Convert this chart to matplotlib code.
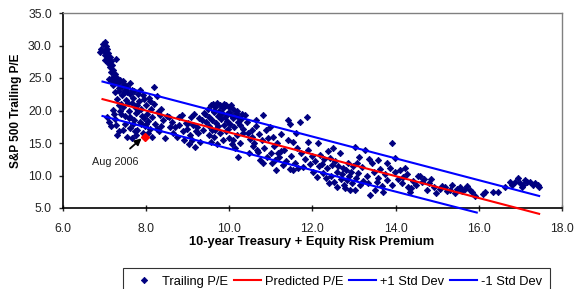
import matplotlib
matplotlib.use("Agg")
import matplotlib.pyplot as plt

plt.rcParams['font.family'] = ['Liberation Sans', 'DejaVu Sans']

# ---- data ----
tail = [(7.00,30.6),(6.97,30.2),(7.03,30.0),(6.92,29.4),(6.88,29.0),(6.98,29.2),(7.05,29.5),(7.08,28.9),
        (7.00,28.6),(7.12,28.3),(7.05,28.0),(7.15,27.6),(7.08,27.3),(7.18,27.0),(7.12,26.7),(7.20,26.3),
        (7.15,25.9),(7.25,25.6),(7.20,25.2),(7.30,25.0),(7.10,24.9),(7.38,24.7),(7.25,24.5),(7.45,24.6),
        (7.33,24.2),(7.50,24.0),(7.42,23.8),(7.55,23.6),(7.20,24.0),(7.15,24.6),(7.60,24.3),(7.65,23.2),
        (7.35,23.5),(7.48,23.1),(7.28,27.9),(7.02,27.8)]
cluster1 = [(7.05,19.0),(7.10,18.3),(7.15,17.6),(7.20,20.1),(7.22,19.4),(7.25,18.7),(7.28,17.8),(7.30,16.2),
        (7.35,16.8),(7.38,19.9),(7.40,21.0),(7.42,22.4),(7.45,20.5),(7.48,19.2),(7.50,18.0),(7.52,21.6),
        (7.55,22.8),(7.58,20.0),(7.60,19.0),(7.62,17.3),(7.65,21.2),(7.68,22.0),(7.70,18.5),(7.72,20.6),
        (7.75,19.6),(7.78,17.0),(7.80,22.5),(7.82,21.4),(7.85,18.2),(7.88,20.3),(7.90,19.1),(7.92,16.6),
        (7.95,21.8),(7.98,17.6),(8.00,20.8),(8.02,19.4),(8.05,18.4),(8.08,22.0),(8.10,17.2),(8.12,20.2),
        (8.15,19.0),(8.18,23.6),(8.20,21.0),(8.22,18.0),(8.25,22.3),(8.28,19.8),(8.30,16.8),(8.33,19.3),
        (8.36,17.6),(8.40,18.6),(8.45,15.8),(8.50,19.1),(7.45,17.0),(7.55,16.0),(7.65,15.7),(7.75,16.2),
        (7.35,20.8),(7.57,21.1),(7.70,23.0),(7.62,22.6),(7.85,23.2),(7.50,22.9),(7.40,19.5),(7.80,19.9),
        (8.05,16.5),(8.15,16.0),(7.95,18.8),(7.88,17.9),(7.68,18.0),(7.58,18.8),(7.30,21.8),(7.25,22.9),
        (7.35,23.0),(8.00,17.9),(8.25,17.1),(8.35,20.3),(7.78,20.9),(7.92,22.4),(8.10,21.5),(7.72,16.8)]
cluster2 = [(8.55,19.0),(8.62,18.2),(8.70,17.4),(8.75,15.9),(8.80,19.0),(8.85,19.3),(8.88,16.8),(8.92,15.5),
        (8.95,18.1),(8.98,17.2),(9.00,18.1),(9.05,16.2),(9.08,19.0),(9.10,15.5),(9.12,17.8),(9.17,14.4),
        (9.20,16.9),(9.22,17.5),(9.25,16.5),(9.28,18.8),(9.30,15.2),(9.34,18.5),(9.36,17.0),(9.38,19.6),
        (8.65,16.5),(8.78,17.8),(9.15,19.4),(9.02,14.9),(8.58,17.5)]
cluster3 = [(9.42,19.5),(9.45,18.2),(9.48,20.3),(9.50,17.6),(9.52,19.0),(9.55,20.8),(9.58,18.6),(9.60,21.0),
        (9.62,19.7),(9.65,20.5),(9.68,18.1),(9.70,21.1),(9.72,19.2),(9.75,20.0),(9.78,20.8),(9.80,18.7),
        (9.82,19.6),(9.85,20.4),(9.88,17.8),(9.90,19.0),(9.92,20.9),(9.95,18.4),(9.98,19.8),(10.00,20.6),
        (10.02,18.0),(10.05,19.3),(10.08,20.2),(10.10,18.8),(10.12,17.5),(10.15,19.6),(10.18,20.0),(10.20,18.3),
        (10.22,19.0),(10.25,17.8),(10.28,18.7),(10.30,19.4),(10.33,17.2),(10.37,19.3),(9.63,20.0),(9.77,19.4),
        (9.87,21.0),(9.94,19.4),(10.04,20.9),(9.73,17.6),(9.58,17.0),
        (9.50,16.3),(9.55,15.2),(9.62,16.0),(9.70,14.8),(9.78,16.6),(9.85,15.4),(9.92,16.9),(10.00,15.8),
        (10.06,14.9),(10.10,15.5),(10.13,14.2),(10.18,16.2),(10.20,12.8),(10.26,15.0),(10.32,16.5),(9.66,17.0),
        (9.96,17.2)]
cluster4 = [(10.42,18.2),(10.45,16.6),(10.50,15.6),(10.54,17.0),(10.54,16.0),(10.58,14.5),(10.60,15.0),(10.63,18.6),
        (10.67,13.9),(10.70,13.6),(10.72,16.4),(10.73,12.4),(10.78,15.5),(10.80,11.9),(10.80,19.3),(10.84,14.2),
        (10.88,17.0),(10.90,12.9),(10.94,15.8),(10.97,17.5),(10.99,13.5),(10.48,13.4),(10.65,17.6)]
cluster5 = [(11.02,11.9),(11.05,16.0),(11.08,14.6),(11.10,12.4),(11.14,15.0),(11.18,13.4),(11.20,12.8),(11.24,16.4),
        (11.28,11.6),(11.32,14.0),(11.36,12.3),(11.40,18.5),(11.42,15.4),(11.46,18.0),(11.48,13.0),(11.53,15.2),
        (11.53,10.8),(11.58,12.0),(11.62,14.3),(11.66,11.2),(11.70,18.2),(11.72,13.4),(11.77,11.3),(11.82,12.6),
        (11.86,19.0),(11.88,14.0),(11.90,15.2),(11.94,11.8),(11.98,13.0),(12.02,10.6),(12.06,12.2),(12.10,9.8),
        (12.13,15.0),(12.16,11.4),(12.18,13.2),(11.25,13.7),(11.60,16.6),(11.12,10.9),(11.45,11.0)]
cluster6 = [(12.22,11.8),(12.25,10.4),(12.28,12.6),(12.32,9.6),(12.35,11.2),(12.38,13.8),(12.42,12.7),(12.45,10.0),
        (12.48,11.6),(12.52,9.0),(12.55,12.2),(12.58,10.6),(12.62,11.4),(12.66,13.4),(12.68,9.4),(12.70,10.2),
        (12.73,11.1),(12.76,8.6),(12.78,8.1),(12.80,10.8),(12.83,9.3),(12.85,12.0),(12.88,9.9),(12.90,7.8),
        (12.92,10.5),(12.95,8.8),(12.98,11.5),(12.40,8.8),(12.60,8.2),(12.50,14.2)]
cluster7 = [(13.02,14.4),(13.02,7.8),(13.05,9.6),(13.08,12.0),(13.10,10.4),(13.14,8.6),(13.19,11.3),(13.22,9.2),
        (13.26,13.9),(13.30,10.0),(13.33,8.8),(13.38,7.0),(13.43,11.9),(13.47,10.6),(13.50,7.8),(13.55,9.0),
        (13.57,12.4),(13.57,9.6),(13.62,11.0),(13.66,8.4),(13.70,7.5),(13.74,10.2),(13.79,9.3),(13.80,12.0),
        (13.86,11.2),(13.90,15.0),(13.92,8.6),(13.98,12.7),(13.98,10.5),(13.12,12.8),(13.36,12.5)]
cluster8 = [(14.05,9.4),(14.10,10.8),(14.15,8.8),(14.17,9.8),(14.22,11.2),(14.27,10.3),(14.30,8.2),(14.34,7.5),
        (14.38,8.1),(14.42,9.2),(14.48,8.6),(14.53,10.0),(14.58,10.0),(14.63,9.0),(14.68,9.5),(14.75,7.8),
        (14.80,8.8),(14.86,9.4),(14.92,8.2),(14.98,7.3)]
cluster9 = [(15.06,8.0),(15.12,8.4),(15.18,8.2),(15.24,7.6),(15.30,7.8),(15.36,8.5),(15.42,7.3),(15.48,8.0),
        (15.54,8.3),(15.60,7.6),(15.66,8.0),(15.72,8.4),(15.78,7.8),(15.84,7.4),(15.90,6.8),(16.10,7.2),(16.14,7.5)]
cluster10 = [(16.34,7.5),(16.46,7.5),(16.63,8.3),(16.75,9.0),(16.80,8.6),(16.87,9.0),(16.94,9.6),(16.99,8.8),
        (17.03,8.2),(17.06,8.5),(17.10,9.3),(17.15,9.0),(17.23,9.0),(17.30,8.6),(17.35,8.8),(17.42,8.5),(17.45,8.2)]

trailing = tail + cluster1 + cluster2 + cluster3 + cluster4 + cluster5 + cluster6 + cluster7 + cluster8 + cluster9 + cluster10
trail_x = [p[0] for p in trailing]
trail_y = [p[1] for p in trailing]

aug2006_x = [7.97]
aug2006_y = [16.0]

pred_x = [6.95, 17.45]
pred_y = [21.75, 4.10]
plus_x = [6.95, 17.45]
plus_y = [24.45, 6.85]
minus_x = [6.95, 15.95]
minus_y = [19.15, 4.30]

xticks = [6.0, 8.0, 10.0, 12.0, 14.0, 16.0, 18.0]
yticks = [5.0, 10.0, 15.0, 20.0, 25.0, 30.0, 35.0]

# ---- figure ----
fig = plt.figure(figsize=(5.75, 2.89), dpi=100)
ax = fig.add_axes([63/575, 1-208/289, (562-63)/575, (208-13)/289])

navy = '#000080'
ax.plot(trail_x, trail_y, linestyle='none', marker='D', markersize=3.2,
        color=navy, markeredgecolor=navy, markeredgewidth=0.6, label='Trailing P/E', zorder=2)
ax.plot(pred_x, pred_y, color='#FF0000', lw=1.5, label='Predicted P/E', zorder=3, clip_on=False)
ax.plot(plus_x, plus_y, color='#0000FF', lw=1.5, label='+1 Std Dev', zorder=3, clip_on=False)
ax.plot(minus_x, minus_y, color='#0000FF', lw=1.5, label='-1 Std Dev', zorder=3, clip_on=False)
ax.plot(aug2006_x, aug2006_y, linestyle='none', marker='D', markersize=4.2,
        color='#FF0000', markeredgecolor='#FF0000', zorder=4)

ax.annotate('Aug 2006', xy=(7.89, 15.72), xytext=(7.25, 12.1),
            ha='center', va='center', fontsize=7.8, color='#222222',
            arrowprops=dict(arrowstyle='-|>,head_length=0.5,head_width=0.25',
                            color='black', lw=1.3, shrinkA=6, shrinkB=0))

ax.set_xlim(6, 18)
ax.set_ylim(5, 35)
ax.set_xticks(xticks)
ax.set_yticks(yticks)
ax.set_xticklabels([f'{v:.1f}' for v in xticks])
ax.set_yticklabels([f'{v:.1f}' for v in yticks])
ax.tick_params(axis='x', direction='inout', length=5, width=1, pad=8, labelsize=8.8, colors='#222222')
ax.tick_params(axis='y', direction='out', length=3, width=1, pad=5, labelsize=8.8, colors='#222222')

for s in ['left', 'bottom']:
    ax.spines[s].set_color('black')
    ax.spines[s].set_linewidth(1.2)
for s in ['top', 'right']:
    ax.spines[s].set_color('#808080')
    ax.spines[s].set_linewidth(1.0)

ax.set_xlabel('10-year Treasury + Equity Risk Premium', fontsize=9.3, fontweight='bold')
ax.set_ylabel('S&P 500 Trailing P/E', fontsize=8.5, fontweight='bold')
ax.xaxis.set_label_coords(0.499, -0.145)
ax.yaxis.set_label_coords(-0.082, 0.5)

leg = fig.legend(loc='upper left', bbox_to_anchor=(123/575, 1-268/289), ncol=4,
                 fontsize=9.3, frameon=True, fancybox=False, edgecolor='black',
                 handlelength=2.1, handletextpad=0.3, columnspacing=0.45, borderpad=0.6,
                 borderaxespad=0)
leg.get_frame().set_linewidth(0.8)

fig.savefig('out.png', dpi=100)
